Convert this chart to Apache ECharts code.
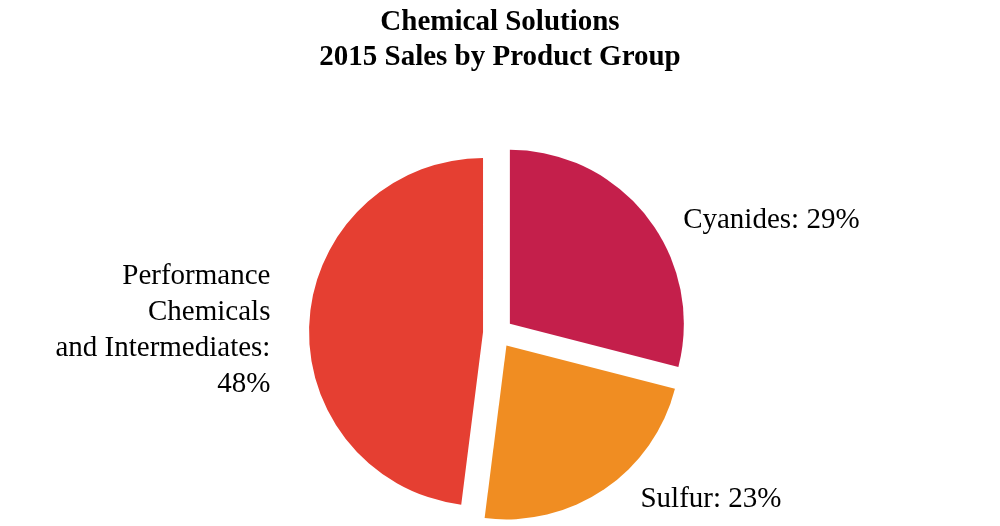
<!DOCTYPE html>
<html>
<head>
<meta charset="utf-8">
<script src="https://cdn.jsdelivr.net/npm/echarts@6/dist/echarts.min.js"></script>
<style>html,body{margin:0;padding:0;background:#fff}#c{width:1000px;height:526px}</style>
</head>
<body>
<div id="c"></div>
<script>
const titleLines = ['Chemical Solutions', '2015 Sales by Product Group'];
const categories = ['Cyanides', 'Sulfur', 'Performance\nChemicals\nand Intermediates'];
const values = [29, 23, 48];
const colors = ['#C41F4B', '#F08D22', '#E53F32'];

const chart = echarts.init(document.getElementById('c'), null, {renderer: 'canvas'});
const font = '"Liberation Serif", "Times New Roman", serif';
const labelShift = [[5, 15], [10, -6], [-4, 11]];
chart.setOption({
  animation: false,
  title: {
    text: titleLines.join('\n'),
    left: 'center',
    top: 0,
    textStyle: {fontFamily: font, fontWeight: 'bold', fontSize: 29, lineHeight: 35, color: '#000'}
  },
  series: [{
    type: 'pie',
    center: [498, 333],
    radius: 174,
    startAngle: 90,
    clockwise: true,
    selectedMode: 'multiple',
    selectedOffset: 15,
    silent: true,
    label: {
      position: 'outside',
      fontFamily: font,
      fontSize: 29,
      lineHeight: 36,
      color: '#000',
      formatter: p => p.name + ': ' + p.value + '%'
    },
    labelLine: {show: false, length: 20, length2: 10},
    labelLayout: p => ({dx: labelShift[p.dataIndex][0], dy: labelShift[p.dataIndex][1]}),
    data: categories.map((c, i) => ({
      name: c, value: values[i], selected: true,
      itemStyle: {color: colors[i]},
      label: i === 2 ? {formatter: p => p.name + ':\n' + p.value + '%', align: 'right'} : {}
    }))
  }]
});
</script>
</body>
</html>
